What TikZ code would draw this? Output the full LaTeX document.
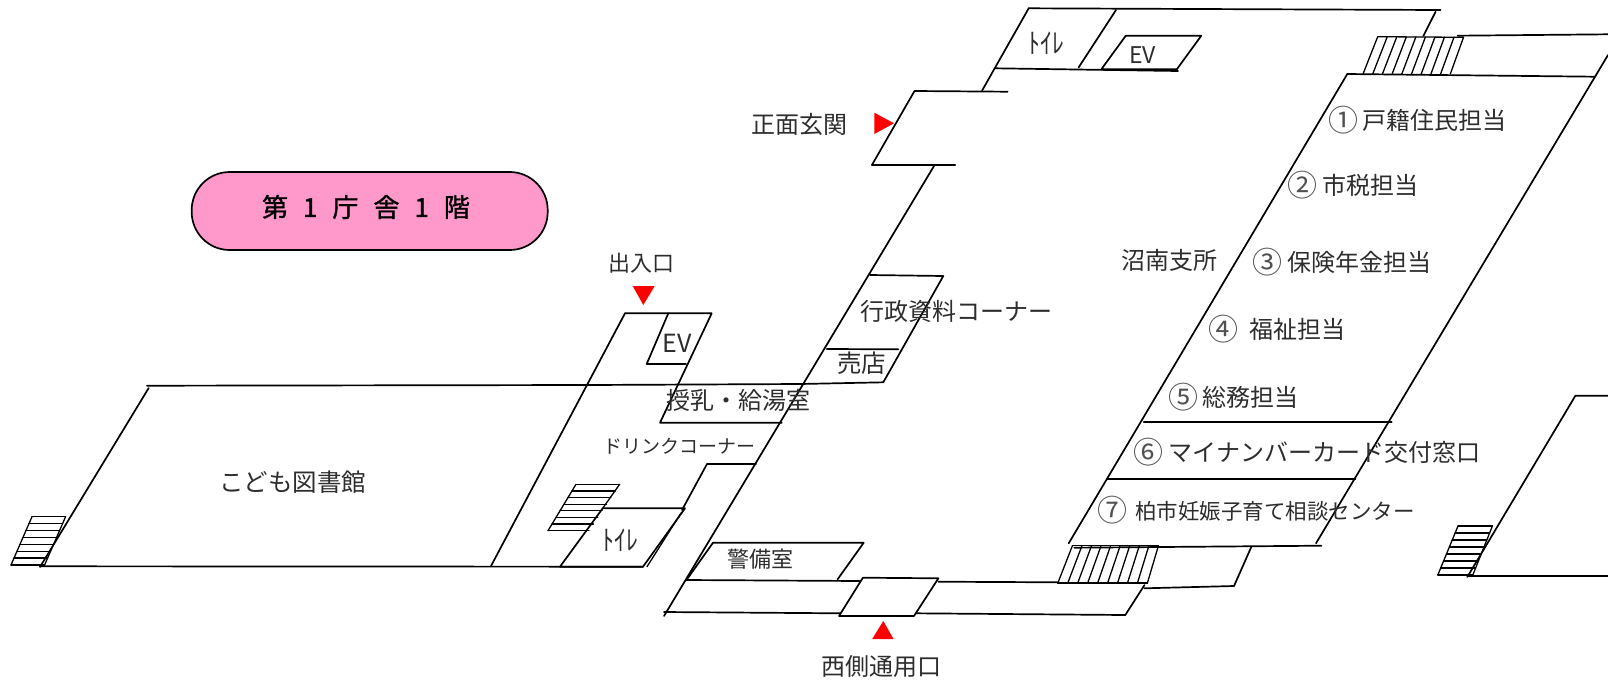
\documentclass[tikz,border=0pt]{standalone}
\usepackage{fontspec}
\setmainfont{Noto Sans CJK JP}
\newfontfamily\titlefont[FakeBold=1.3]{Noto Sans CJK JP}
\usetikzlibrary{calc}
\definecolor{inkc}{RGB}{45,45,45}
\definecolor{circc}{RGB}{80,80,80}
\definecolor{pillc}{RGB}{255,153,204}
\tikzset{
  wall/.style={draw=black,line width=1.7pt,line cap=round,line join=round},
  thin wall/.style={draw=black,line width=1.3pt,line cap=round,line join=round},
  mark red/.style={fill=red,draw=none},
  lbl/.style={inner sep=0pt,text=inkc,text height=0.88*#1,text depth=0.12*#1,font=\fontsize{#1}{#1}\selectfont},
  lbl/.default=24,
  counter/.style={lbl=#1,anchor=west},
  counter/.default=24,
}
% enlarged circled number in a box of fixed width, followed by a fixed gap
\newcommand{\cd}[2]{\makebox[26pt][c]{\raisebox{-2.7pt}{\fontsize{30}{30}\selectfont\textcolor{circc}{#1}}}\hspace{#2}}
\newcommand{\wcl}{\scalebox{0.85}[1]{\fontsize{28}{28}\selectfont ﾄｲﾚ}}
\newcommand{\hrungs}[6]{% a b c d count: rungs between a-b and c-d
  \coordinate (#1a) at #2; \coordinate (#1b) at #3; \coordinate (#1c) at #4; \coordinate (#1d) at #5;
  \foreach \t in {0,...,#6} {
    \draw[thin wall] ($(#1a)!\t/#6!(#1c)$) -- ($(#1b)!\t/#6!(#1d)$);
  }
  \draw[thin wall] (#1a) -- (#1c);
  \draw[thin wall] (#1b) -- (#1d);
}
\begin{document}
\begin{tikzpicture}[x=1pt,y=-1pt]
\useasboundingbox (0,0) rectangle (1608,681);
\fill[white] (0,0) rectangle (1608,681);

% title
\node[draw=black,line width=1.7pt,fill=pillc,rounded corners=38pt,minimum width=356pt,minimum height=78pt,inner sep=0pt] (title) at (369.7,211) {};
\node[inner sep=0pt,text=black,text height=22.9pt,text depth=3.1pt,font=\fontsize{26}{26}\titlefont] (titletext) at (366,207)
      {\spaceskip=15pt 第 1 庁 舎 1 階};

% children's library
\draw[wall] (147,385.7) -- (589,385) -- (800,384) -- (883.3,382.3);
\draw[wall] (148.7,388) -- (40,567);
\draw[wall] (40,566.3) -- (643,566.7);
\hrungs{sa}{(32,516.7)}{(65.6,516.7)}{(11,565)}{(44.6,565)}{7}

% corridor and entrance block
\draw[wall] (625,313.3) -- (491,566);
\draw[wall] (625,313.3) -- (711.7,313.3) -- (660,422.7) -- (781.7,422.7);
\draw[wall] (668.3,313.3) -- (646.7,364) -- (686,364);

% lobby main wall
\draw[wall] (934,166) -- (664,616);
\draw[wall] (870,275) -- (943.3,276) -- (883.3,382.3);
\draw[wall] (826.7,349) -- (898.3,349.3);

% drink corner
\draw[wall] (756,464) -- (707,464) -- (682,510);
% corridor stairs
\coordinate (sbA) at (576,484.3); \coordinate (sbB) at (619.6,484.3);
\coordinate (sbC) at (548,530.7); \coordinate (sbD) at (589,530.7);
\foreach \t in {0,...,7} {
  \draw[thin wall] ($(sbA)!\t/7!(sbC)$) -- ($(sbB)!\t/7!(sbD)$);
}
\draw[thin wall] (sbA) -- (sbC);
\draw[thin wall] (sbB) -- (602.7,508.3);
% toilet
\draw[wall] (602.7,508.3) -- (685,508.3) -- (643,566.7) -- (560,566.7) -- cycle;
\draw[thin wall] (681,513) -- (647,566.7);

% security and west corridor
\draw[wall] (686,580) -- (860.8,581);
\draw[wall] (713,542.7) -- (863.7,542.7) -- (837.6,579.3);
\draw[wall] (713,542.7) -- (687,579.3);
\draw[wall] (664,612) -- (840.4,613.3);
\draw[wall] (862.9,577.7) -- (938.4,578.3) -- (914,616) -- (839,616) -- cycle;
\draw[wall] (938.4,581.7) -- (1057.6,582.3);
\draw[wall] (916,613.3) -- (1125.3,615) -- (1144.5,585);

% lower stairs
\coordinate (scA) at (1072.4,545.7); \coordinate (scB) at (1158.4,545.7);
\coordinate (scC) at (1057.7,583.3); \coordinate (scD) at (1147.3,583.3);
\foreach \t in {0,...,9} {
  \draw[thin wall] ($(scA)!\t/9!(scB)$) -- ($(scC)!\t/9!(scD)$);
}
\draw[thin wall] (scA) -- (scB);
\draw[wall] (scC) -- (scD);
\draw[wall] (1074.3,547.7) -- (1321.5,545.7);
\draw[wall] (1251.4,546.7) -- (1234,586) -- (1144.4,588.3);

% counter block
\draw[wall] (1347.3,74) -- (1068.7,543.3);
\draw[wall] (1347.3,74) -- (1594.9,76.7);
\draw[wall] (1608,55) -- (1316,543.3);
\draw[wall] (1143.7,421.7) -- (1391.6,421.7);
\draw[wall] (1107.5,479.3) -- (1355.5,479.3);

% upper stairs
\coordinate (sdA) at (1377.7,36.7); \coordinate (sdB) at (1463.5,37.3);
\coordinate (sdC) at (1363,74); \coordinate (sdD) at (1450.3,74);
\foreach \t in {0,...,9} {
  \draw[thin wall] ($(sdA)!\t/9!(sdB)$) -- ($(sdC)!\t/9!(sdD)$);
}
\draw[thin wall] (sdA) -- (sdB);
\draw[wall] (1457.6,35.7) -- (1608,34.3);

% top block
\draw[wall] (1028.7,8.3) -- (1440.5,10);
\draw[wall] (1435.6,11.7) -- (1423.3,36);
\draw[wall] (1028.7,8.3) -- (982,90.7);
\draw[wall] (1116,10) -- (1078.7,67.3);
\draw[wall] (995.4,68.3) -- (1178,71);
\draw[wall] (1125.8,35.7) -- (1201.3,35.7) -- (1176.8,69.3) -- (1101.3,69.3) -- cycle;

% main entrance
\draw[wall] (1007.6,91.7) -- (914.5,91) -- (871.9,165) -- (955.2,165);

% far right block
\draw[wall] (1608,395.7) -- (1575.4,395.7) -- (1467.3,577);
\draw[wall] (1467.3,576) -- (1608,576);
\hrungs{se}{(1458,526)}{(1492.4,526)}{(1437.8,575)}{(1472.8,575)}{7}

% red markers
\fill[mark red] (874.3,112.7) -- (874.3,134) -- (894,123.3) -- cycle;
\fill[mark red] (632.7,286) -- (654.7,286) -- (643.3,305) -- cycle;
\fill[mark red] (883.3,621) -- (872.2,639) -- (893.5,639) -- cycle;

% labels
\node[lbl=24.5] (kodomo) at (292.5,482) {こども図書館};
\node[lbl=22] (deiri) at (641.5,263) {出入口};
\node[lbl=25] (ev1) at (677,343) {EV};
\node[lbl] (gyosei) at (956,311) {行政資料コーナー};
\node[lbl=24.5] (baiten) at (861.5,363) {売店};
\node[lbl] (junyu) at (738.5,400) {授乳・給湯室};
\node[lbl=19] (drink) at (679.5,446) {ドリンクコーナー};
\node[lbl=28] (wc1) at (620.5,540) {\wcl};
\node[lbl=28] (wc2) at (1046.5,43) {\wcl};
\node[lbl=23] (ev2) at (1142.7,55) {EV};
\node[lbl] (shomen) at (799.5,124) {正面玄関};
\node[counter] (c1) at (1330,120) {\cd{①}{6.7pt}戸籍住民担当};
\node[counter] (c2) at (1289,185) {\cd{②}{7.7pt}市税担当};
\node[counter] (c3) at (1254,262) {\cd{③}{7pt}保険年金担当};
\node[counter] (c4) at (1210,329) {\cd{④}{13pt}福祉担当};
\node[counter] (c5) at (1170,397) {\cd{⑤}{6.7pt}総務担当};
\node[counter] (c6) at (1135,452) {\cd{⑥}{7.4pt}マイナンバーカード交付窓口};
\node[counter=21.5] (c7) at (1099.4,511) {\cd{⑦}{9.6pt}柏市妊娠子育て相談センター};
\node[lbl] (shonan) at (1169.5,260) {沼南支所};
\node[lbl=22] (keibi) at (760.7,559) {警備室};
\node[lbl] (nishi) at (881.8,666) {西側通用口};
\end{tikzpicture}
\end{document}
